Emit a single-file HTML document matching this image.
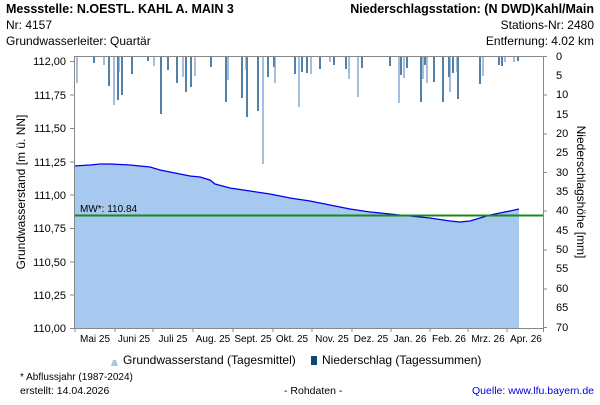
<!DOCTYPE html><html><head><style>
body{margin:0;background:#fff;width:600px;height:400px;overflow:hidden;font-family:"Liberation Sans",sans-serif}
</style></head><body>
<svg width="600" height="400" xmlns="http://www.w3.org/2000/svg" font-family="Liberation Sans, sans-serif">
<g font-size="12.5" fill="#000">
<text x="6" y="13" font-weight="bold">Messstelle: N.OESTL. KAHL A. MAIN 3</text>
<text x="6" y="29" font-size="12">Nr: 4157</text>
<text x="6" y="45" font-size="12">Grundwasserleiter: Quartär</text>
<text x="594" y="13" text-anchor="end" font-weight="bold">Niederschlagsstation: (N DWD)Kahl/Main</text>
<text x="594" y="29" text-anchor="end" font-size="12">Stations-Nr: 2480</text>
<text x="594" y="45" text-anchor="end" font-size="12">Entfernung: 4.02 km</text>
</g>
<path d="M74,166 L90,165 L100,164 L110,164 L130,165 L140,166 L150,167 L160,170 L170,172 L180,174 L190,176 L200,177 L210,180 L215,184 L230,188 L250,191 L270,194 L290,198 L310,201 L330,205 L350,209 L370,212 L390,214 L410,216 L430,218 L450,221 L460,222 L470,221 L480,218 L490,215 L500,213 L510,211 L519,209 L519,328 L74,328 Z" fill="#a7c8ef"/>
<path d="M74,166 L90,165 L100,164 L110,164 L130,165 L140,166 L150,167 L160,170 L170,172 L180,174 L190,176 L200,177 L210,180 L215,184 L230,188 L250,191 L270,194 L290,198 L310,201 L330,205 L350,209 L370,212 L390,214 L410,216 L430,218 L450,221 L460,222 L470,221 L480,218 L490,215 L500,213 L510,211 L519,209" fill="none" stroke="#0000ee" stroke-width="1.3"/>
<line x1="74" y1="215.5" x2="543" y2="215.5" stroke="#1a8a1a" stroke-width="2"/>
<text x="80" y="212" font-size="10">MW*: 110.84</text>
<g stroke-width="1.4">
<g stroke="#0b4a80">
<path d="M94,56V63 M109,56V86 M118,56V100 M122,56V95 M132,56V74 M148,56V61 M161,56V114 M168,56V70 M177,56V83 M186,56V92 M191,56V87 M211,56V67 M226,56V102 M242,56V98 M247,56V117 M258,56V111 M268,56V77 M274,56V67 M295,56V74 M302,56V72 M307,56V73 M320,56V69 M334,56V65 M346,56V69 M362,56V68 M390,56V66 M401,56V75 M407,56V68 M421,56V102 M425,56V65 M434,56V82 M443,56V102 M449,56V77 M453,56V73 M458,56V99 M480,56V84 M499,56V65 M502,56V66 M518,56V61"/>
</g>
<g stroke="#7aa6cf">
<path d="M77,56V83 M104,56V65 M114,56V105 M119,56V72 M154,56V66 M183,56V77 M195,56V76 M228,56V80 M246,56V70 M263,56V164 M275,56V83 M299,56V107 M311,56V74 M330,56V62 M349,56V79 M358,56V97 M399,56V103 M404,56V78 M423,56V79 M427,56V83 M450,56V92 M457,56V72 M483,56V76 M505,56V62 M514,56V62"/>
</g>
</g>
<g stroke="#888" fill="none" stroke-width="1">
<line x1="74.5" y1="56" x2="74.5" y2="328"/>
<line x1="543.5" y1="56" x2="543.5" y2="332"/>
<line x1="74" y1="56.5" x2="543" y2="56.5"/>
<line x1="70" y1="328.5" x2="543" y2="328.5"/>
<path d="M70,61.5H74 M70,95H74 M70,128.5H74 M70,162H74 M70,195H74 M70,228.5H74 M70,262H74 M70,295H74 M543,56.5H547 M543,95H547 M543,134H547 M543,172.5H547 M543,211H547 M543,250H547 M543,289H547 M543,327.5H547"/>
<path d="M75,328V332 M115,328V332 M153,328V332 M193,328V332 M233,328V332 M273,328V332 M312,328V332 M352,328V332 M391,328V332 M430,328V332 M468,328V332 M507,328V332"/>
</g>
<g font-size="11" text-anchor="end">
<text x="66" y="65">112,00</text><text x="66" y="99">111,75</text><text x="66" y="132">111,50</text><text x="66" y="166">111,25</text><text x="66" y="199">111,00</text><text x="66" y="232">110,75</text><text x="66" y="266">110,50</text><text x="66" y="299">110,25</text><text x="66" y="332">110,00</text>
</g>
<g font-size="11" text-anchor="start">
<text x="556" y="60">0</text><text x="556" y="79">5</text><text x="556" y="98">10</text><text x="556" y="118">15</text><text x="556" y="137">20</text><text x="556" y="156">25</text><text x="556" y="176">30</text><text x="556" y="195">35</text><text x="556" y="214">40</text><text x="556" y="234">45</text><text x="556" y="253">50</text><text x="556" y="272">55</text><text x="556" y="292">60</text><text x="556" y="311">65</text><text x="556" y="331">70</text>
</g>
<g font-size="10" text-anchor="middle">
<text x="95" y="342">Mai 25</text><text x="134" y="342">Juni 25</text><text x="173" y="342">Juli 25</text><text x="213" y="342">Aug. 25</text><text x="253" y="342">Sept. 25</text><text x="292" y="342">Okt. 25</text><text x="332" y="342">Nov. 25</text><text x="371" y="342">Dez. 25</text><text x="410" y="342">Jan. 26</text><text x="449" y="342">Feb. 26</text><text x="488" y="342">Mrz. 26</text><text x="526" y="342">Apr. 26</text>
</g>
<text transform="translate(25,192) rotate(-90)" font-size="12" text-anchor="middle">Grundwasserstand [m ü. NN]</text>
<text transform="translate(577,192) rotate(90)" font-size="12" text-anchor="middle">Niederschlagshöhe [mm]</text>
<path d="M111,366 L113,360 L116,360 L118,366 Z" fill="#a7c8ef"/>
<text x="123" y="364" font-size="12">Grundwasserstand (Tagesmittel)</text>
<rect x="311" y="356" width="6" height="9" fill="#0b4a80"/>
<text x="322" y="364" font-size="12">Niederschlag (Tagessummen)</text>
<text x="20" y="380" font-size="10">* Abflussjahr (1987-2024)</text>
<text x="20" y="394" font-size="10.5">erstellt:  14.04.2026</text>
<text x="284" y="394" font-size="10.5">- Rohdaten -</text>
<text x="594" y="394" font-size="10.5" fill="#0000dd" text-anchor="end">Quelle: www.lfu.bayern.de</text>
</svg>
</body></html>
